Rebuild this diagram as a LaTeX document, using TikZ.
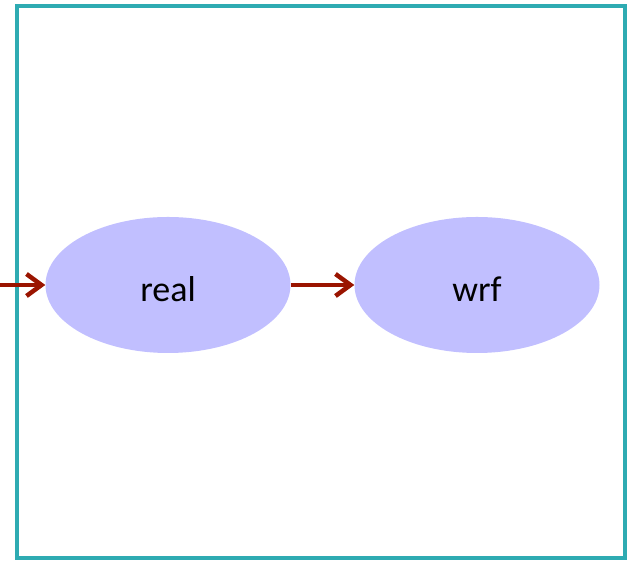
\documentclass[tikz,border=0pt]{standalone}
\usepackage{fontspec}
\setmainfont{Carlito}
\usetikzlibrary{arrows.meta,
	shapes.geometric}
\definecolor{frameteal}{HTML}{2EABB2}
\definecolor{stagefill}{HTML}{C1BFFF}
\definecolor{flowred}{HTML}{9A1400}

\begin{document}
\begin{tikzpicture}[x=1pt,y=1pt]
    \tikzstyle{stage}=[ellipse,fill=stagefill,minimum width=245pt,minimum height=136pt,inner sep=0pt,font=\fontsize{36}{42}\selectfont]
    \tikzstyle{flow}=[draw=flowred,line width=4.5pt,-{Straight Barb[length=15pt,width=22pt,line width=4.5pt]}]
    \useasboundingbox (0,0) rectangle (627,561);
    \draw[frameteal,line width=4pt] (17,3) rectangle (625,555);
    \node[stage] (real) at (168,276) {\raisebox{-4pt}[\height][0pt]{real}};
    \node[stage] (wrf) at (477,276) {\raisebox{-4pt}[\height][0pt]{wrf}};
    \coordinate (in) at (0,276);
    \draw[flow] (in) -- (real);
    \draw[flow] (real) -- (wrf);
  \end{tikzpicture}
\end{document}
